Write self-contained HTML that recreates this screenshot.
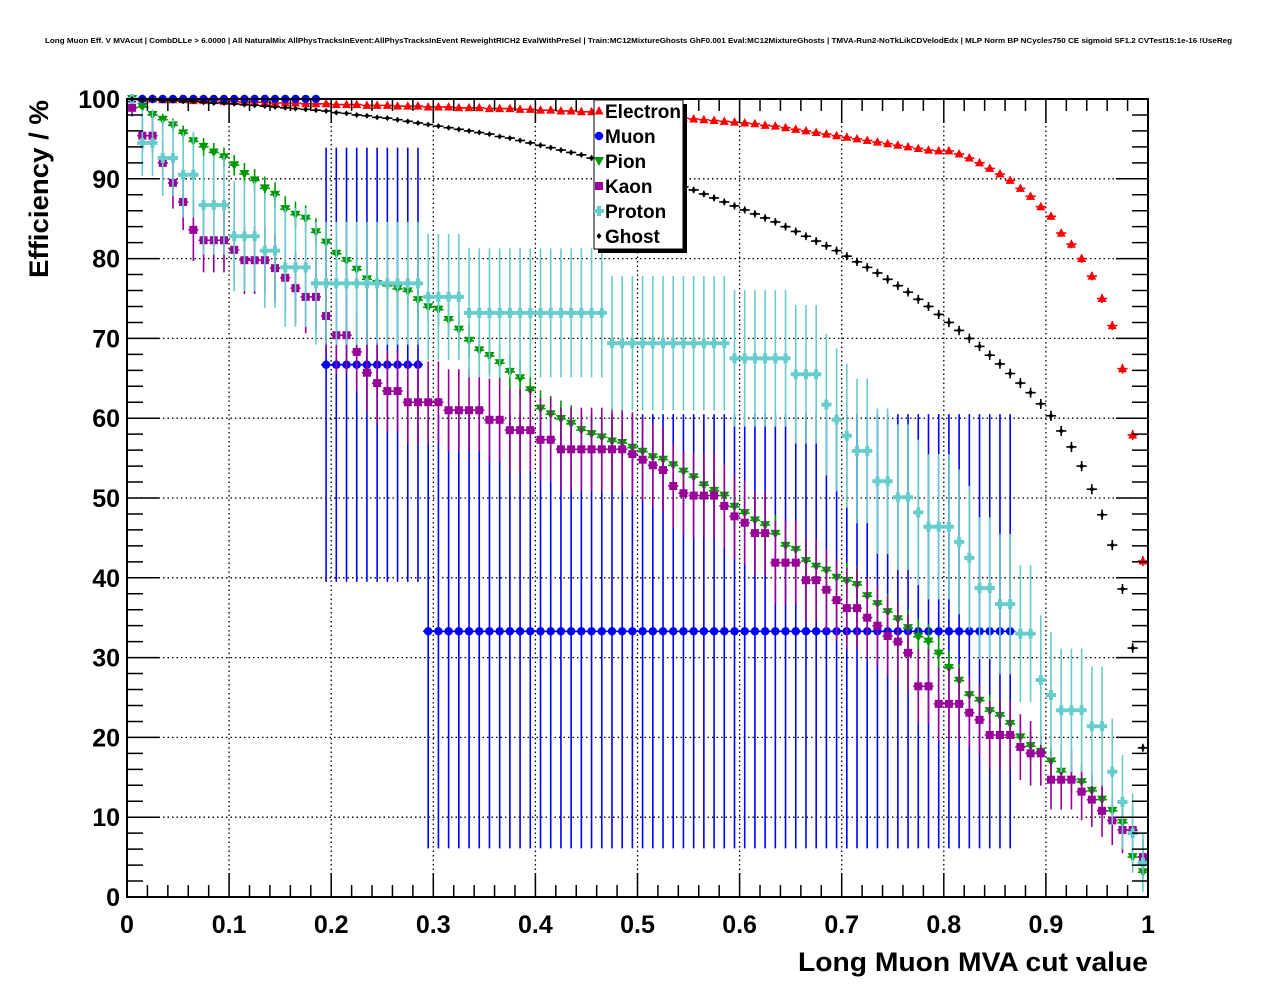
<!DOCTYPE html>
<html><head><meta charset="utf-8"><style>
html,body{margin:0;padding:0;background:#fff;}
svg{display:block;font-family:"Liberation Sans",Arial,sans-serif;}
</style></head><body>
<svg id="chart" width="1276" height="996" viewBox="0 0 1276 996" xmlns="http://www.w3.org/2000/svg">
<rect x="0" y="0" width="1276" height="996" fill="#fff"/>
<text x="45" y="43" font-size="7.5" font-weight="bold" textLength="1187" lengthAdjust="spacingAndGlyphs">Long Muon Eff. V MVAcut | CombDLLe &gt; 6.0000 | All NaturalMix AllPhysTracksInEvent:AllPhysTracksInEvent ReweightRICH2 EvalWithPreSel | Train:MC12MixtureGhosts GhF0.001 Eval:MC12MixtureGhosts | TMVA-Run2-NoTkLikCDVelodEdx | MLP Norm BP NCycles750 CE sigmoid SF1.2 CVTest15:1e-16 !UseReg</text>
<g id="grid"></g>
<g id="marks"></g>
<g id="axes"></g>
<text transform="translate(48,278) rotate(-90)" font-size="27" font-weight="bold" textLength="178" lengthAdjust="spacingAndGlyphs">Efficiency / %</text>
<text x="1148" y="971" text-anchor="end" font-size="27" font-weight="bold" textLength="350" lengthAdjust="spacingAndGlyphs">Long Muon MVA cut value</text>
<g id="legend"></g>
</svg>
<script>
const xTicks = [0,0.1,0.2,0.3,0.4,0.5,0.6,0.7,0.8,0.9,1];
const xTickLabels = ["0","0.1","0.2","0.3","0.4","0.5","0.6","0.7","0.8","0.9","1"];
const yTicks = [0,10,20,30,40,50,60,70,80,90,100];
const yTickLabels = ["0","10","20","30","40","50","60","70","80","90","100"];
const nBins = 100;
const seriesNames = ["Electron","Muon","Pion","Kaon","Proton","Ghost"];
const electron = [100,100,100,99.9,99.9,99.9,99.8,99.8,99.8,99.7,
99.7,99.6,99.6,99.6,99.5,99.5,99.5,99.4,99.4,99.4,
99.3,99.3,99.3,99.2,99.2,99.2,99.1,99.1,99.1,99.0,
99.0,99.0,98.9,98.9,98.9,98.8,98.8,98.8,98.7,98.7,
98.6,98.6,98.5,98.5,98.4,98.4,98.3,98.3,98.2,98.1,
98.0,97.9,97.8,97.7,97.6,97.5,97.4,97.3,97.2,97.1,
97.0,96.9,96.7,96.6,96.4,96.2,96.0,95.8,95.6,95.4,
95.2,95.0,94.8,94.6,94.4,94.2,94.0,93.8,93.6,93.5,
93.5,93.1,92.6,92.0,91.3,90.6,89.8,88.8,87.8,86.5,
85.3,83.2,81.8,80.0,77.8,75.0,71.6,66.2,57.9,42.1];
const muon = [100,100,100,100,100,100,100,100,100,100,
100,100,100,100,100,100,100,100,100,66.7,
66.7,66.7,66.7,66.7,66.7,66.7,66.7,66.7,66.7,33.3,
33.3,33.3,33.3,33.3,33.3,33.3,33.3,33.3,33.3,33.3,
33.3,33.3,33.3,33.3,33.3,33.3,33.3,33.3,33.3,33.3,
33.3,33.3,33.3,33.3,33.3,33.3,33.3,33.3,33.3,33.3,
33.3,33.3,33.3,33.3,33.3,33.3,33.3,33.3,33.3,33.3,
33.3,33.3,33.3,33.3,33.3,33.3,33.3,33.3,33.3,33.3,
33.3,33.3,33.3,33.3,33.3,33.3,33.3,null,null,null,
null,null,null,null,null,null,null,null,null,null];
const pion = [100,99,98,97.4,96.7,95.7,94.7,94,93.3,92.7,
91.7,90.6,89.8,88.8,88,86.2,85.5,85,83.3,82,
80.6,79.7,78.6,77.4,76.8,76.6,76.2,75.9,74.8,73.9,
73.6,72.3,71.1,69.7,68.5,67.8,66.9,65.8,65,63.5,
61.2,60.5,59.9,59.3,58.5,58,57.6,57.1,56.9,56.3,
55.8,55.1,54.8,54.1,53.3,52.6,51.6,50.9,50.3,48.9,
48.1,47.2,46.6,45.5,44,43.5,42.1,41.4,40.9,40,
39.6,39.1,37.7,36.7,35.7,34.8,33.7,32.6,32,30.5,
28.7,27.1,25.3,24.6,23.3,22.7,21.7,20,18.9,18.2,
17,15.7,14.7,14.4,13.3,12.2,10.8,9.3,5,3.1];
const kaon = [98.9,95.4,95.4,92,89.5,87.1,83.6,82.3,82.3,82.3,
81.1,79.8,79.8,79.8,78.8,77.6,76.3,75.2,75.2,72.8,
70.4,70.4,68.3,65.7,64.4,63.4,63.4,62,62,62,
62,61,61,61,61,59.8,59.8,58.5,58.5,58.5,
57.3,57.3,56.1,56.1,56.1,56.1,56.1,56.1,56.1,55.5,
54.8,54.1,53.5,51.5,50.6,50.3,50.3,50.3,49,47.7,
46.9,45.6,45.6,41.9,41.9,41.9,39.7,39.7,38.5,37.2,
36.2,36.2,35,34,32.7,32,30.6,26.4,26.4,24.2,
24.2,24.2,23.1,22.2,20.3,20.3,20.3,18.8,18,18,
14.7,14.7,14.7,13.2,12.2,10.8,9.6,8.4,8.4,5];
const proton = [100,94.5,94.5,92.6,92.6,90.5,90.5,86.7,86.7,86.7,
82.8,82.8,82.8,81,81,78.9,78.9,78.9,76.9,76.9,
76.9,76.9,76.9,76.9,76.9,76.9,76.9,76.9,76.9,75.2,
75.2,75.2,75.2,73.2,73.2,73.2,73.2,73.2,73.2,73.2,
73.2,73.2,73.2,73.2,73.2,73.2,73.2,69.4,69.4,69.4,
69.4,69.4,69.4,69.4,69.4,69.4,69.4,69.4,69.4,67.5,
67.5,67.5,67.5,67.5,67.5,65.5,65.5,65.5,61.7,59.8,
57.8,55.9,55.9,52.1,52.1,50.1,50.1,48.2,46.4,46.4,
46.4,44.5,42.5,38.7,38.7,36.7,36.7,33,33,27.2,
25.3,23.4,23.4,23.4,21.4,21.4,15.7,11.9,8,4.3];
const ghost = [100,99.9,99.9,99.8,99.8,99.7,99.7,99.6,99.5,99.5,
99.4,99.3,99.2,99.1,99.0,98.9,98.8,98.7,98.6,98.5,
98.3,98.2,98.0,97.9,97.7,97.6,97.4,97.2,97.0,96.8,
96.6,96.4,96.2,96.0,95.8,95.6,95.3,95.1,94.8,94.5,
94.2,93.9,93.6,93.3,93.0,92.6,92.2,91.8,91.4,91.0,
90.6,90.2,89.8,89.4,89.0,88.6,88.1,87.6,87.1,86.6,
86.1,85.6,85.1,84.6,84.0,83.4,82.8,82.2,81.6,81.0,
80.3,79.6,78.9,78.2,77.4,76.6,75.8,74.9,74.0,73.0,
72.0,71.0,70.0,69.0,67.9,66.8,65.6,64.4,63.2,61.8,
60.3,58.4,56.4,54.0,51.1,47.9,44.1,38.6,31.2,18.7];
// effective sample sizes (binomial error estimate)
const sampleSizes = [6000,3,450,90,30,6000];

const X0=127,X1=1148,Y0=897,Y1=99;
function sx(v){return X0+(X1-X0)*v;}
function sy(v){return Y0-(Y0-Y1)*v/100;}
const NS="http://www.w3.org/2000/svg";
function mk(tag,attrs,parent){const e=document.createElementNS(NS,tag);for(const k in attrs)e.setAttribute(k,attrs[k]);parent.appendChild(e);return e;}

const grid=document.getElementById('grid');
const axes=document.getElementById('axes');
xTicks.forEach((t,i)=>{
  if(t>0&&t<1){const l=mk('line',{x1:sx(t),x2:sx(t),y1:Y0,y2:Y1,stroke:'#000','stroke-width':1.3,'stroke-dasharray':'1.5,3'},grid);
  
  }
  const tx=mk('text',{x:sx(t),y:933,'text-anchor':'middle','font-size':25,'font-weight':'bold'},axes);
  tx.textContent=xTickLabels[i];
  
  
});
yTicks.forEach((t,i)=>{
  if(t>0&&t<100){const l=mk('line',{x1:X0,x2:X1,y1:sy(t),y2:sy(t),stroke:'#000','stroke-width':1.3,'stroke-dasharray':'1.5,3'},grid);
  
  }
  const tx=mk('text',{x:120,y:sy(t)+9,'text-anchor':'end','font-size':25,'font-weight':'bold'},axes);
  tx.textContent=yTickLabels[i];
  
  
});
let tp='';
for(let k=0;k<=50;k++){const v=k/50;const L=(k%5===0)?24:12;const x=sx(v);
  tp+=`M${x},${Y0}v${-L}M${x},${Y1}v${L}`;}
for(let k=0;k<=50;k++){const v=k*2;const L=(k%5===0)?32:16;const y=sy(v);
  tp+=`M${X0},${y}h${L}M${X1},${y}h${-L}`;}
const ticks=mk('path',{d:tp,stroke:'#000','stroke-width':1.5,fill:'none'},axes);


const frame=mk('rect',{x:X0,y:Y1,width:X1-X0,height:Y0-Y1,fill:'none',stroke:'#000','stroke-width':2},axes);



const colors=['#ff0000','#0000ff','#009900','#990099','#66cccc','#000000'];
const shapes=['tri','circ','tridown','sq','cross','diam'];
function marker(shape,x,y,c,parent){
  if(shape==='tri')return mk('path',{d:`M${x},${y-5}L${x+4.5},${y+3.5}L${x-4.5},${y+3.5}Z`,fill:c},parent);
  if(shape==='tridown')return mk('path',{d:`M${x},${y+5}L${x+5},${y-4}L${x-5},${y-4}Z`,fill:c},parent);
  if(shape==='circ')return mk('circle',{cx:x,cy:y,r:4.2,fill:c},parent);
  if(shape==='sq')return mk('rect',{x:x-4,y:y-4,width:8,height:8,fill:c},parent);
  if(shape==='cross')return mk('path',{d:`M${x-5},${y-2}h3v-3h4v3h3v4h-3v3h-4v-3h-3Z`,fill:c},parent);
  return mk('path',{d:`M${x},${y-3}L${x+2.5},${y}L${x},${y+3}L${x-2.5},${y}Z`,fill:c},parent);
}
const marks=document.getElementById('marks');
const allSeries=[electron,muon,pion,kaon,proton,ghost];
allSeries.forEach((vals,s)=>{
  const g=mk('g',{},marks);
  
  
  const N=sampleSizes[s];const c=colors[s];
  let d='';
  vals.forEach((v,i)=>{
    if(v===null||v===undefined)return;
    const xc=(i+0.5)/nBins;const x=sx(xc);
    const p=v/100;const e=100*Math.sqrt(Math.max(p*(1-p),0)/N);
    const hi=Math.min(100,v+e),lo=Math.max(0,v-e);
    d+=`M${sx(xc-0.5/nBins)},${sy(v)}H${sx(xc+0.5/nBins)}`;
    if(e>0.3)d+=`M${x},${sy(hi)}V${sy(lo)}`;
  });
  const eb=mk('path',{d:d,stroke:c,'stroke-width':1.6,fill:'none'},g);
  
  
  vals.forEach((v,i)=>{
    if(v===null||v===undefined)return;
    const m=marker(shapes[s],sx((i+0.5)/nBins),sy(v),c,g);
    
    
  });
});

const lg=document.getElementById('legend');
const sh=mk('rect',{x:598,y:104,width:89,height:149,fill:'#000'},lg);


const bx=mk('rect',{x:594,y:100,width:89,height:149,fill:'#fff',stroke:'#000','stroke-width':1},lg);


seriesNames.forEach((n,s)=>{
  const y=111+s*25;
  const e=mk('g',{},lg);
  
  
  marker(shapes[s],599,y,colors[s],e);
  const t=mk('text',{x:605,y:y+7,'font-size':19,'font-weight':'bold'},e);
  t.textContent=n;
});
</script>
</body></html>
